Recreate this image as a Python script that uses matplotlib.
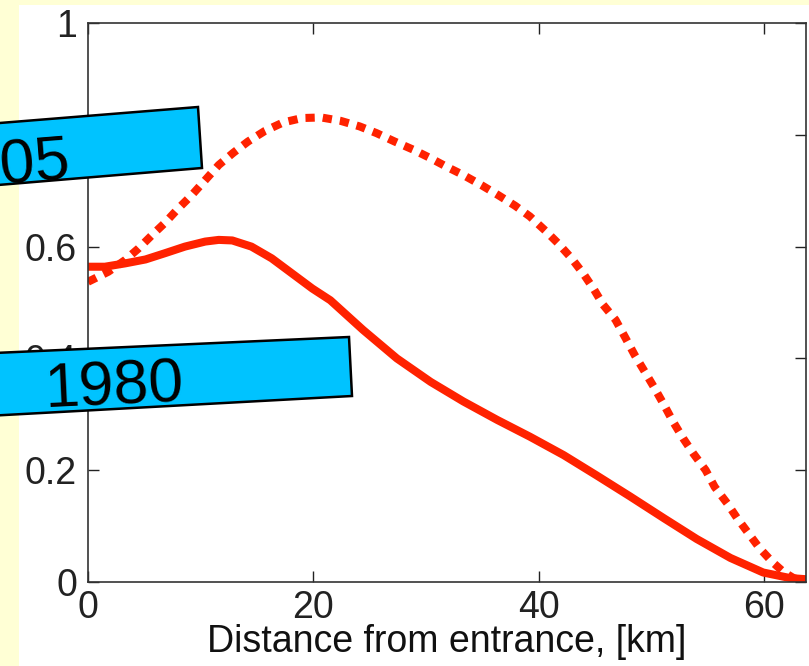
import matplotlib
matplotlib.use("Agg")
import matplotlib.pyplot as plt
from matplotlib.patches import Polygon, Rectangle

plt.rcParams['font.family'] = ['Liberation Sans', 'DejaVu Sans']

# Data
x_1980 = [0, 1.5, 3.3, 5.1, 6.8, 8.6, 10.4, 11.6, 12.8, 14.5, 16.3, 18.1, 19.9, 21.5,
          24.4, 27.4, 30.4, 33.3, 36.3, 39.2, 42.2, 45.1, 48.1, 51.1, 54.0, 57.0,
          59.9, 62.3, 63.7]
y_1980 = [0.564, 0.564, 0.570, 0.577, 0.588, 0.600, 0.609, 0.612, 0.611, 0.600, 0.579,
          0.552, 0.525, 0.504, 0.451, 0.400, 0.358, 0.323, 0.290, 0.260, 0.227, 0.191,
          0.153, 0.114, 0.077, 0.043, 0.017, 0.007, 0.005]
x_2005 = [0, 1.8, 3.3, 4.5, 5.7, 6.8, 8.0, 9.2, 10.4, 11.6, 12.9, 14.2, 15.7, 17.3,
          19.0, 20.7, 22.4, 24.1, 25.6, 27.2, 28.9, 30.4, 31.8, 33.3, 34.9, 36.4,
          37.9, 39.2, 40.6, 41.7, 42.9, 44.0, 44.9, 45.7, 46.8, 47.7, 48.5, 49.4,
          50.2, 51.1, 51.9, 52.8, 53.7, 54.8, 55.6, 56.7, 57.6, 58.6, 59.6, 60.7,
          61.7, 62.6, 63.7]
y_2005 = [0.537, 0.555, 0.576, 0.597, 0.621, 0.642, 0.668, 0.692, 0.719, 0.746, 0.768,
          0.788, 0.807, 0.822, 0.830, 0.831, 0.825, 0.815, 0.803, 0.788, 0.773, 0.758,
          0.743, 0.728, 0.710, 0.692, 0.673, 0.654, 0.628, 0.606, 0.579, 0.550, 0.523,
          0.496, 0.469, 0.436, 0.406, 0.376, 0.349, 0.317, 0.287, 0.257, 0.230, 0.200,
          0.170, 0.141, 0.114, 0.087, 0.060, 0.036, 0.018, 0.007, 0.0]
x_ticks = [0, 20, 40, 60]
y_ticks = [0, 0.2, 0.4, 0.6, 0.8, 1]
y_ticklabels = ['0', '0.2', '0.4', '0.6', '0.8', '1']
x_label = 'Distance from entrance, [km]'
label_1980 = '1980'
label_2005 = '2005'

W, H = 809, 666
fig = plt.figure(figsize=(W / 100, H / 100), dpi=100)
fig.patch.set_facecolor('#FFFFD5')

def fx(px):
    return px / W

def fy(py):
    return 1 - py / H

# white panel
fig.add_artist(Rectangle((fx(19), 0), 1 - fx(19), fy(5), transform=fig.transFigure,
                         facecolor='white', edgecolor='none', zorder=0))

ax = fig.add_axes([fx(88), fy(582), fx(806) - fx(88), fy(23) - fy(582)])
ax.set_facecolor('white')
red = '#FF2200'
ax.plot(x_1980, y_1980, color=red, lw=5.8, solid_capstyle='butt', solid_joinstyle='round')
ax.plot(x_2005, y_2005, color=red, lw=5.8, linestyle=(0, (1.15, 1.0)), dash_capstyle='butt')

ax.set_xlim(0, 63.7)
ax.set_ylim(0, 1)
ax.set_xticks(x_ticks)
ax.set_yticks(y_ticks)
ax.set_yticklabels(y_ticklabels)
ax.tick_params(direction='in', length=8, width=1, top=True, right=True,
               labelsize=27, colors='#222222', pad=8)
ax.tick_params(axis='x', pad=6)
for s in ax.spines.values():
    s.set_linewidth(1.2)
    s.set_color('#333333')
ax.set_xlabel(x_label, fontsize=27, labelpad=-1.5, color='#111111')

# blue label boxes
box1 = [(-50, 127), (198, 107), (202, 168), (-50, 189)]
box2 = [(-50, 355), (349, 337), (352, 396), (-50, 418)]
for box in (box1, box2):
    fig.add_artist(Polygon([(fx(a), fy(b)) for a, b in box], closed=True,
                           transform=fig.transFigure, facecolor='#00C3FF',
                           edgecolor='black', lw=1.8, zorder=5))

fig.text(fx(72), fy(178), label_2005, ha='right', va='baseline', fontsize=45,
         rotation=4.6, rotation_mode='anchor', zorder=6)
fig.text(fx(45), fy(408), label_1980, ha='left', va='baseline', fontsize=45,
         rotation=2.7, rotation_mode='anchor', zorder=6)

fig.savefig('out.png', dpi=100, facecolor=fig.get_facecolor())
